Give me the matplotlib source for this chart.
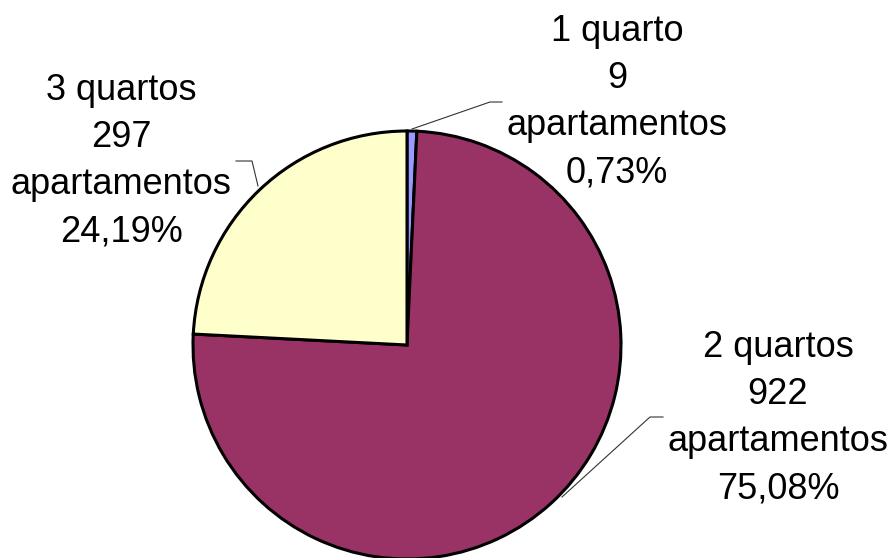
import matplotlib
matplotlib.use("Agg")
import matplotlib.pyplot as plt

# data
labels = ["1 quarto", "2 quartos", "3 quartos"]
counts = [9, 922, 297]
pcts = ["0,73%", "75,08%", "24,19%"]
colors = ["#9999FF", "#993366", "#FFFFCC"]

W, H = 892, 558
fig = plt.figure(figsize=(W / 100, H / 100), dpi=100)
ax = fig.add_axes([0, 0, 1, 1])

# pixel coords (y from top) -> data
def P(x, y):
    return x, H - y

cx, cy = P(407, 345)
ax.pie(counts, colors=colors, startangle=90, counterclock=False,
       center=(cx, cy), radius=214, frame=True,
       wedgeprops=dict(edgecolor="black", linewidth=2.2))
ax.set_xlim(0, W)
ax.set_ylim(0, H)
ax.set_aspect("equal")
ax.axis("off")

# label block centres and leader lines (pixels)
label_pos = [(617, 102), (778, 418), (121, 161)]
leaders = [
    [(412, 129), (490, 102), (502, 102)],
    [(562, 497), (650, 417), (663, 417)],
    [(258, 186), (252, 161), (236, 161)],
]

for lab, n, p, (lx, ly), pts in zip(labels, counts, pcts, label_pos, leaders):
    txt = "%s\n%d\napartamentos\n%s" % (lab, n, p)
    x, y = P(lx, ly)
    ax.text(x, y, txt, ha="center", va="center", fontsize=26,
            family="Liberation Sans", linespacing=1.45, color="black")
    xs = [q[0] for q in pts]
    ys = [H - q[1] for q in pts]
    ax.plot(xs, ys, color="#333333", linewidth=0.8)

fig.savefig("out.png", dpi=100)
